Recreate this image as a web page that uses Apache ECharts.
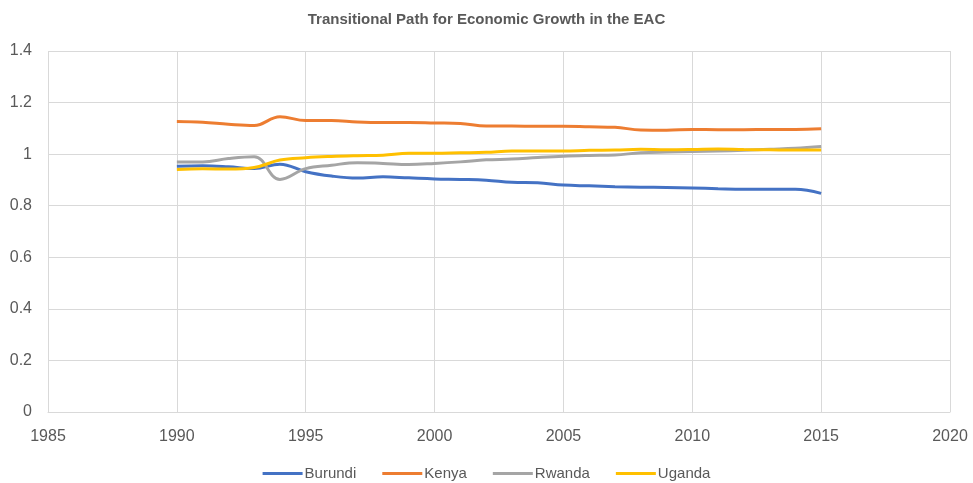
<!DOCTYPE html>
<html><head><meta charset="utf-8">
<script src="https://cdn.jsdelivr.net/npm/echarts@6/dist/echarts.min.js"></script>
<style>html,body{margin:0;padding:0;background:#fff}#c{width:973px;height:483px}</style>
</head><body><div id="c"></div>
<script>
const years = [1990,1991,1992,1993,1994,1995,1996,1997,1998,1999,2000,2001,2002,2003,2004,2005,2006,2007,2008,2009,2010,2011,2012,2013,2014,2015];
const burundi = [0.953,0.955,0.951,0.944,0.961,0.932,0.915,0.907,0.912,0.908,0.904,0.902,0.899,0.891,0.889,0.880,0.877,0.874,0.872,0.871,0.869,0.866,0.864,0.864,0.864,0.848];
const kenya = [1.127,1.124,1.116,1.111,1.145,1.130,1.130,1.125,1.123,1.123,1.121,1.119,1.109,1.109,1.108,1.108,1.106,1.104,1.094,1.093,1.096,1.095,1.095,1.096,1.096,1.098];
const rwanda = [0.970,0.970,0.983,0.990,0.902,0.944,0.957,0.967,0.964,0.960,0.964,0.970,0.978,0.981,0.987,0.992,0.995,0.997,1.005,1.008,1.010,1.012,1.015,1.019,1.023,1.030];
const uganda = [0.940,0.943,0.942,0.948,0.977,0.986,0.991,0.994,0.996,1.003,1.003,1.005,1.007,1.012,1.012,1.012,1.015,1.016,1.019,1.017,1.018,1.020,1.018,1.017,1.016,1.016];
const seriesNames = ['Burundi','Kenya','Rwanda','Uganda'];
const seriesColors = ['#4472C4','#ED7D31','#A5A5A5','#FFC000'];
const seriesData = [burundi,kenya,rwanda,uganda];
const xTicks = {min:1985,max:2020,interval:5};
const yTicks = {min:0,max:1.4,interval:0.2};

const font = '"Liberation Sans Narrow", "Liberation Sans", sans-serif';
const chart = echarts.init(document.getElementById('c'));
chart.setOption({
  animation:false,
  title:{text:'Transitional Path for Economic Growth in the EAC',left:'center',top:7,
    textStyle:{fontFamily:font,fontSize:15,fontWeight:'bold',color:'#595959'}},
  grid:{left:48,right:23,top:51,bottom:71},
  legend:{bottom:-3,left:'center',itemWidth:40,itemHeight:3,itemGap:26,icon:'rect',
    textStyle:{fontFamily:font,fontSize:15,color:'#595959',padding:[0,0,0,-3]},
    data:seriesNames},
  xAxis:{type:'value',min:xTicks.min,max:xTicks.max,interval:xTicks.interval,
    axisLine:{show:true,lineStyle:{color:'#D9D9D9'}},axisTick:{show:false},
    axisLabel:{fontFamily:font,fontSize:16,color:'#595959',margin:17,formatter:v=>String(v)},
    splitLine:{show:true,lineStyle:{color:'#D9D9D9',width:1}}},
  yAxis:{type:'value',min:yTicks.min,max:yTicks.max,interval:yTicks.interval,
    axisLine:{show:false},axisTick:{show:false},
    axisLabel:{fontFamily:font,fontSize:16,color:'#595959',margin:16,
      formatter:v=>String(Math.round(v*10)/10)},
    splitLine:{show:true,lineStyle:{color:'#D9D9D9',width:1}}},
  series:seriesNames.map((n,i)=>({name:n,type:'line',smooth:0.4,showSymbol:false,symbol:'none',
    lineStyle:{width:3,color:seriesColors[i]},itemStyle:{color:seriesColors[i]},
    data:years.map((y,j)=>[y,seriesData[i][j]])}))
});
</script></body></html>
